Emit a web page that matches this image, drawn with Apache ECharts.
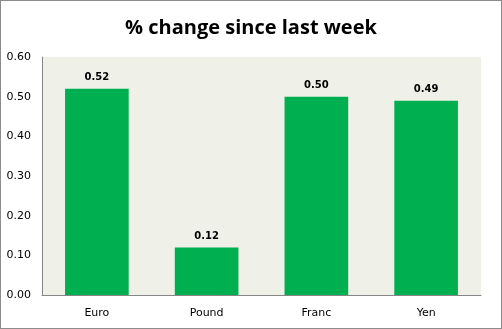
<!DOCTYPE html>
<html>
<head>
<meta charset="utf-8">
<script src="https://cdn.jsdelivr.net/npm/echarts@6/dist/echarts.min.js"></script>
<style>
  html, body { margin: 0; padding: 0; background: #fff; }
  #chart { width: 500px; height: 327px; border: 1px solid #8c8c8c; background: #fff; }
</style>
</head>
<body>
<div id="chart"></div>
<script>
// Currency moves over the past week
const categories = ['Euro', 'Pound', 'Franc', 'Yen'];
const changes = [0.52, 0.12, 0.50, 0.49];
const yTicks = { min: 0, max: 0.6, interval: 0.1 };

const chart = echarts.init(document.getElementById('chart'), null, { renderer: 'canvas' });
chart.setOption({
  animation: false,
  title: {
    text: '% change since last week',
    left: 'center',
    top: 12,
    textStyle: { fontFamily: 'Open Sans', fontWeight: 'bold', fontSize: 20, color: '#000' }
  },
  grid: {
    left: 41, right: 20, top: 56, bottom: 33,
    show: true, backgroundColor: '#eff0e8', borderWidth: 0
  },
  xAxis: {
    type: 'category',
    data: categories,
    axisLine: { lineStyle: { color: '#868686', width: 1 } },
    axisTick: { show: false },
    axisLabel: { fontFamily: 'DejaVu Sans', fontSize: 11, color: '#000', margin: 13 }
  },
  yAxis: {
    type: 'value',
    min: yTicks.min, max: yTicks.max, interval: yTicks.interval,
    axisLine: { show: true, lineStyle: { color: '#868686', width: 1 } },
    axisTick: { show: false },
    splitLine: { show: false },
    axisLabel: {
      fontFamily: 'DejaVu Sans', fontSize: 11, color: '#000', margin: 11,
      formatter: v => v.toFixed(2)
    }
  },
  series: [{
    type: 'bar',
    data: changes,
    barWidth: '58%',
    itemStyle: { color: '#00b050' },
    label: {
      show: true, position: 'top', distance: 6,
      fontFamily: 'DejaVu Sans', fontWeight: 'bold', fontSize: 10, color: '#000',
      formatter: p => p.value.toFixed(2)
    }
  }]
});
</script>
</body>
</html>
